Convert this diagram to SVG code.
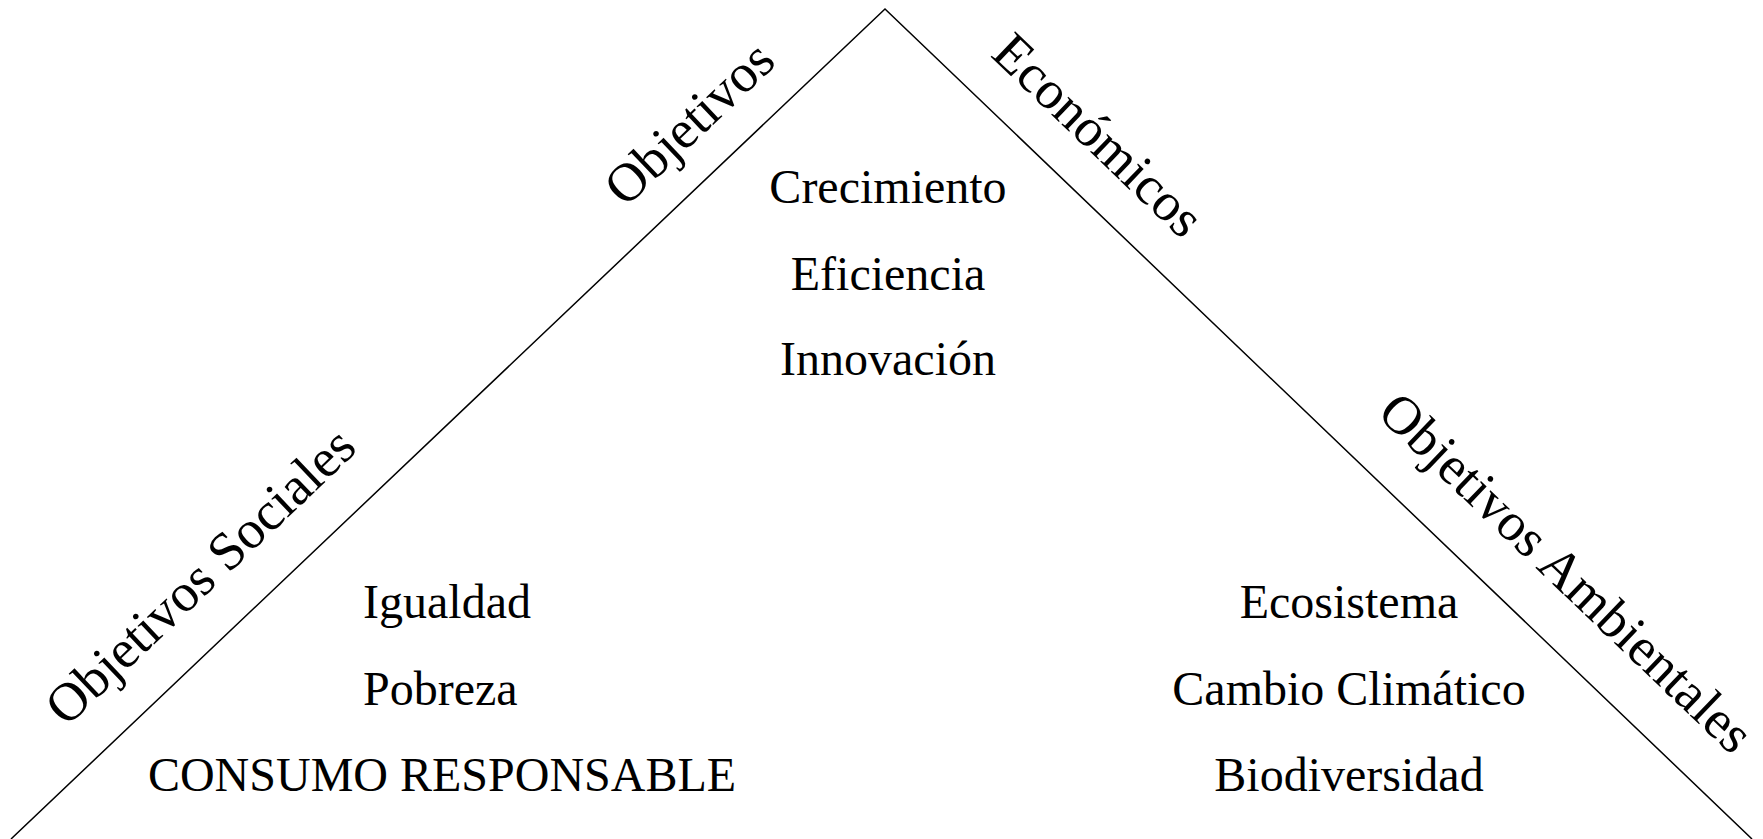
<svg xmlns="http://www.w3.org/2000/svg" width="1763" height="839" viewBox="0 0 1763 839">
<style>
text{font-family:"Liberation Serif","Times New Roman",serif;font-size:48px;fill:#000}
.c{text-anchor:middle}
.side{font-size:54px;text-anchor:middle}
</style>
<rect width="1763" height="839" fill="#fff"/>
<g id="connectors">
<polyline points="11,839 885,9 1752,839" fill="none" stroke="#000" stroke-width="1.5"/>
</g>
<g id="label-obj-econ-left"><text class="side" transform="translate(701.5,136) rotate(-43.5)">Objetivos</text></g>
<g id="label-obj-econ-right"><text class="side" transform="translate(1086,148) rotate(43.75)">Económicos</text></g>
<g id="label-sociales"><text class="side" transform="translate(212.5,589) rotate(-43.5)">Objetivos Sociales</text></g>
<g id="label-ambientales"><text class="side" transform="translate(1554,585.5) rotate(43.75)">Objetivos Ambientales</text></g>
<g id="economicos">
<text class="c" x="888" y="203">Crecimiento</text>
<text class="c" x="888" y="290">Eficiencia</text>
<text class="c" x="888" y="375">Innovación</text>
</g>
<g id="sociales">
<text x="363" y="618">Igualdad</text>
<text x="363" y="705">Pobreza</text>
<text class="c" x="442" y="791">CONSUMO RESPONSABLE</text>
</g>
<g id="ambientales">
<text class="c" x="1349" y="618">Ecosistema</text>
<text class="c" x="1349" y="705">Cambio Climático</text>
<text class="c" x="1349" y="791">Biodiversidad</text>
</g>
</svg>
